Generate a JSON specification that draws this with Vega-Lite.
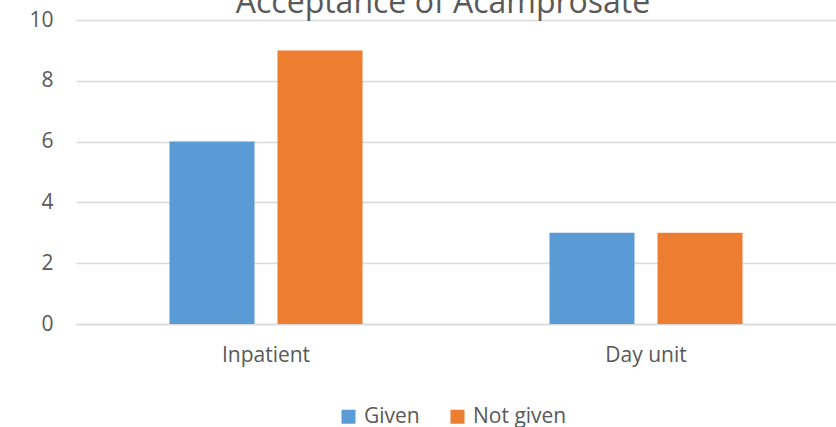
{
  "$schema": "https://vega.github.io/schema/vega-lite/v6.json",
  "autosize": "none",
  "width": 760,
  "height": 304,
  "padding": {"top": 20, "left": 76, "right": 0, "bottom": 103},
  "background": "white",
  "title": {
    "text": "Acceptance of Acamprosate",
    "font": "Open Sans",
    "fontSize": 32,
    "fontWeight": "normal",
    "color": "#595959",
    "anchor": "middle",
    "frame": "group",
    "baseline": "alphabetic",
    "offset": -36,
    "dx": -13
  },
  "data": {
    "values": [
      {"unit": "Inpatient", "status": "Given", "count": 6},
      {"unit": "Inpatient", "status": "Not given", "count": 9},
      {"unit": "Day unit", "status": "Given", "count": 3},
      {"unit": "Day unit", "status": "Not given", "count": 3}
    ]
  },
  "config": {
    "view": {"stroke": null},
    "font": "Open Sans"
  },
  "mark": {"type": "bar"},
  "encoding": {
    "x": {
      "field": "unit",
      "type": "nominal",
      "sort": ["Inpatient", "Day unit"],
      "scale": {"paddingInner": 0.492, "paddingOuter": 0.246},
      "axis": {
        "title": null,
        "labelAngle": 0,
        "labelFont": "Open Sans",
        "labelFontSize": 21,
        "labelColor": "#595959",
        "labelPadding": 20,
        "ticks": false,
        "domain": true,
        "domainColor": "#D9D9D9",
        "domainWidth": 1.5,
        "grid": false
      }
    },
    "xOffset": {
      "field": "status",
      "type": "nominal",
      "sort": ["Given", "Not given"],
      "scale": {"paddingInner": 0.213, "paddingOuter": 0}
    },
    "y": {
      "field": "count",
      "type": "quantitative",
      "scale": {"domain": [0, 10], "nice": false},
      "axis": {
        "title": null,
        "values": [0, 2, 4, 6, 8, 10],
        "labelFont": "Open Sans",
        "labelFontSize": 21,
        "labelColor": "#595959",
        "labelPadding": 23,
        "ticks": false,
        "domain": false,
        "grid": true,
        "gridColor": "#D9D9D9",
        "gridWidth": 1.3
      }
    },
    "color": {
      "field": "status",
      "type": "nominal",
      "sort": ["Given", "Not given"],
      "scale": {"domain": ["Given", "Not given"], "range": ["#5B9BD5", "#ED7D31"]},
      "legend": {
        "title": null,
        "orient": "none",
        "direction": "horizontal",
        "legendX": 262,
        "legendY": 386,
        "symbolType": "square",
        "symbolSize": 196,
        "symbolStrokeWidth": 0,
        "labelFont": "Open Sans",
        "labelFontSize": 21,
        "labelColor": "#595959",
        "labelOffset": 5,
        "columnPadding": 27
      }
    }
  }
}
